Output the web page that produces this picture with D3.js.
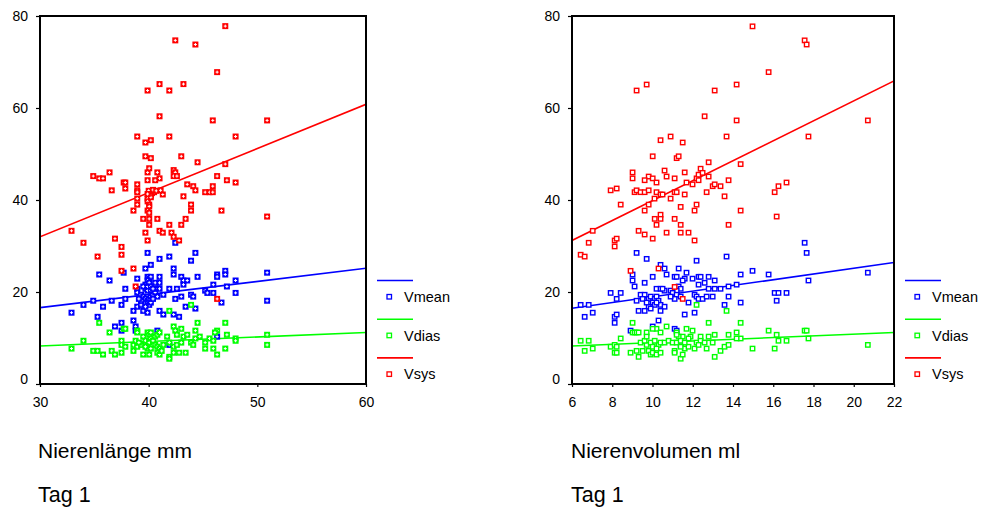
<!DOCTYPE html>
<html><head><meta charset="utf-8">
<script src="https://cdn.jsdelivr.net/npm/d3@7"></script>
<style>html,body{margin:0;padding:0;background:#fff}svg{display:block}text{font-family:"Liberation Sans",Arial,sans-serif;fill:#000}</style>
</head><body>
<script>
// ---------- data ----------
const seriesNames = ["Vmean", "Vdias", "Vsys"];
const seriesColors = ["#0000ff", "#00ff00", "#ff0000"];
const yTicks = [0, 20, 40, 60, 80];

const leftXTicks = [30, 40, 50, 60];
const leftXLabel = "Nierenlänge mm";
const leftFitStart = [16.6, 8.26, 32.0];   // fitted values at x = 30
const leftFitEnd = [25.15, 11.2, 60.8];    // fitted values at x = 60

const rightXTicks = [6, 8, 10, 12, 14, 16, 18, 20, 22];
const rightXLabel = "Nierenvolumen ml";
const rightFitStart = [16.45, 8.26, 31.2]; // at x = 6
const rightFitEnd = [26.4, 11.2, 65.9];    // at x = 22

const dayLabel = "Tag 1";

const leftVsys = [[47.05,77.8],[42.45,74.7],[44.3,73.8],[46.3,67.8],[41.0,65.2],[43.2,65.2],[39.9,63.8],[41.9,63.8],[41.0,58.2],[45.9,57.3],[50.9,57.3],[38.95,53.8],[41.9,53.8],[48.0,53.8],[39.7,52.5],[40.2,53.0],[39.7,49.5],[40.2,49.1],[43.0,49.5],[44.5,48.2],[47.05,47.8],[36.4,46.0],[34.9,45.2],[35.45,44.7],[35.8,44.7],[39.9,46.0],[40.05,46.9],[40.8,46.0],[41.0,44.7],[40.6,44.3],[39.9,44.3],[42.3,46.5],[42.45,46.0],[42.3,45.2],[42.6,45.2],[46.3,45.2],[47.2,44.3],[48.0,43.8],[37.7,43.8],[37.85,43.8],[37.85,42.5],[36.6,42.1],[38.95,43.4],[38.95,42.1],[38.95,41.7],[43.55,43.4],[44.1,43.0],[44.3,42.1],[45.9,43.0],[45.2,41.7],[45.6,41.7],[45.9,41.7],[40.1,41.7],[40.3,41.5],[40.5,41.7],[40.2,41.0],[41.3,41.2],[43.2,40.8],[38.95,40.3],[38.95,39.0],[39.9,40.3],[39.9,39.7],[40.05,39.0],[40.05,38.6],[38.6,37.7],[39.9,37.7],[40.05,37.2],[43.9,39.0],[43.9,37.7],[46.7,37.7],[50.9,36.4],[39.5,35.9],[40.05,35.9],[40.8,35.9],[40.05,34.6],[41.9,34.6],[43.0,34.6],[43.4,35.9],[39.7,32.9],[41.0,33.3],[41.3,32.9],[42.1,32.9],[42.3,32.0],[42.8,31.2],[39.9,31.2],[32.9,33.3],[34.0,30.7],[36.9,31.6],[37.5,29.8],[37.5,28.1],[35.3,27.7],[38.6,25.1],[37.5,24.6],[38.8,21.2],[46.3,18.5],[40.0,42.0],[40.4,42.2],[40.7,42.0],[41.1,42.1],[40.2,40.6],[39.9,41.3]];

const leftVmean = [[39.9,28.5],[44.3,28.5],[41.0,27.2],[41.9,27.7],[40.2,25.9],[43.9,26.8],[39.7,25.1],[42.3,25.1],[42.3,23.8],[42.45,30.7],[35.45,23.8],[36.4,22.5],[37.7,24.2],[38.95,22.9],[39.9,23.3],[40.05,22.9],[40.2,23.3],[39.9,22.5],[39.7,21.6],[40.05,21.6],[40.6,22.0],[41.0,23.3],[41.0,22.0],[40.6,20.7],[41.0,20.7],[43.0,23.3],[43.2,22.5],[43.55,22.5],[43.2,21.6],[44.5,23.3],[46.3,23.8],[46.3,23.3],[47.05,24.6],[47.05,23.8],[48.0,22.5],[50.9,24.2],[45.95,21.6],[47.2,21.2],[41.9,20.7],[42.6,20.7],[37.85,20.7],[38.95,20.7],[39.7,20.7],[39.9,20.3],[40.2,20.3],[45.2,20.3],[45.4,19.8],[45.95,19.8],[48.0,19.8],[43.9,19.4],[44.1,19.0],[43.0,19.0],[42.45,18.5],[46.7,17.7],[50.9,18.1],[41.35,19.4],[37.85,18.5],[36.6,18.1],[37.5,17.2],[34.9,18.1],[35.8,16.8],[34.0,17.2],[32.9,15.5],[38.6,15.9],[39.5,15.9],[39.9,15.5],[38.95,16.8],[39.3,17.2],[41.0,15.9],[41.35,15.1],[42.3,15.1],[42.8,14.6],[43.4,16.8],[44.3,16.4],[35.3,14.6],[36.9,12.5],[37.5,13.3],[38.6,13.8],[37.5,11.6],[38.8,12.5],[38.8,11.6],[40.8,11.6],[46.3,10.3],[41.9,8.5],[38.95,19.9],[39.3,19.4],[39.5,19.0],[39.7,18.5],[39.9,18.1],[39.9,17.7],[40.05,17.2],[39.7,16.8],[40.05,18.5],[40.2,19.0],[40.4,19.4],[40.6,19.9],[40.8,19.0],[39.5,21.2],[39.9,21.2],[40.05,22.0],[40.2,21.2],[40.4,20.7],[39.3,18.1],[39.1,18.5],[40.2,17.7],[40.4,18.5]];

const leftVdias = [[41.9,15.9],[43.9,17.2],[35.45,13.3],[37.7,12.0],[37.85,12.0],[36.4,11.2],[38.95,11.6],[38.95,11.2],[42.3,12.5],[43.0,12.0],[42.45,11.6],[42.6,10.7],[43.2,10.3],[43.55,10.7],[44.5,13.3],[44.3,11.6],[47.05,13.3],[46.3,11.6],[46.1,11.2],[47.2,10.7],[48.0,9.9],[48.0,9.4],[50.9,10.7],[50.9,8.5],[34.0,9.4],[32.9,7.7],[34.9,7.2],[35.3,7.2],[35.8,6.4],[36.6,7.2],[36.9,6.4],[37.5,6.8],[37.5,9.4],[37.5,8.5],[37.85,8.1],[38.6,8.5],[38.6,7.2],[38.95,8.1],[39.3,8.5],[39.5,10.3],[39.9,11.2],[40.05,10.7],[40.2,11.2],[39.7,9.4],[39.9,8.5],[40.05,9.0],[40.2,9.9],[40.4,9.4],[40.6,10.3],[40.8,10.7],[41.0,11.2],[40.6,8.5],[40.8,8.1],[41.0,7.7],[39.5,6.4],[40.05,6.4],[40.8,6.8],[41.0,6.4],[41.2,7.2],[41.35,8.5],[41.7,10.3],[41.9,9.0],[41.9,5.9],[41.9,5.5],[42.3,8.1],[42.3,6.8],[42.6,8.5],[42.8,6.8],[43.0,9.0],[43.4,6.8],[43.9,9.0],[44.1,8.5],[44.3,9.9],[45.2,9.0],[45.2,7.7],[45.6,9.9],[45.95,9.4],[45.95,7.7],[46.3,6.4],[47.05,7.7],[44.7,10.3],[38.8,9.4],[39.1,9.0],[39.9,7.7],[40.2,7.7],[39.7,8.1]];

const rightVsys = [[14.97,77.75],[17.56,74.7],[17.66,73.8],[15.77,67.8],[9.21,63.8],[9.71,65.1],[13.09,63.8],[14.18,65.1],[12.59,58.2],[14.18,57.3],[20.70,57.3],[10.90,53.8],[10.40,53.0],[11.50,52.5],[13.68,53.8],[17.75,53.8],[10.01,49.5],[11.2,49.1],[11.3,49.5],[12.79,48.2],[14.38,47.8],[9.01,46.0],[9.01,44.7],[9.81,45.1],[10.01,44.7],[9.61,44.3],[10.20,43.8],[10.60,46.4],[10.70,45.1],[11.10,44.7],[11.60,46.0],[11.69,43.8],[11.99,43.4],[12.19,44.7],[12.29,45.5],[12.39,46.8],[12.49,45.9],[12.29,44.3],[12.79,45.1],[12.69,41.7],[12.99,43.0],[13.09,43.4],[13.38,43.0],[13.78,44.3],[13.58,40.8],[16.07,41.7],[16.26,43.0],[16.66,43.8],[7.92,42.1],[8.22,42.5],[9.11,41.7],[9.21,42.1],[9.41,41.7],[9.61,41.7],[9.81,42.1],[10.2,41.7],[10.4,41.2],[10.5,41.2],[11.1,41.7],[11.2,41.7],[11.6,41.2],[10.90,40.3],[10.1,40.3],[8.42,39.0],[9.81,39.0],[9.61,37.7],[11.40,38.5],[12.19,39.0],[12.09,37.7],[14.38,37.7],[16.17,36.4],[10.11,35.9],[10.40,36.8],[10.40,35.9],[10.20,34.6],[11.10,35.9],[11.40,34.6],[13.78,34.6],[9.31,33.3],[9.61,32.5],[10.70,32.9],[11.40,32.9],[11.79,32.9],[10.01,31.6],[12.09,31.2],[7.03,33.3],[6.83,30.7],[8.12,31.2],[8.22,31.6],[8.12,29.9],[6.43,28.1],[6.63,27.7],[8.91,24.6],[10.30,25.1],[11.10,21.1],[11.50,18.5]];

const rightVmean = [[17.56,30.7],[17.66,28.5],[9.21,28.5],[9.71,27.2],[12.19,26.8],[13.68,27.7],[10.40,25.9],[10.60,25.1],[11.30,25.1],[11.69,24.2],[9.01,23.8],[9.01,22.5],[9.11,21.2],[10.01,23.3],[10.70,23.8],[11.10,23.3],[11.20,23.3],[11.60,22.9],[11.50,22.5],[11.99,22.9],[12.29,23.3],[12.39,23.3],[12.79,23.3],[13.09,22.5],[12.59,22.0],[12.29,21.6],[14.38,23.8],[14.97,24.6],[15.77,23.8],[17.75,22.5],[20.70,24.2],[9.61,22.0],[14.18,21.6],[13.78,21.2],[13.38,20.7],[13.09,20.7],[12.79,20.7],[10.20,20.7],[10.40,20.7],[10.60,20.3],[10.90,20.3],[10.50,20.7],[11.30,21.2],[11.40,20.7],[11.20,20.3],[7.92,19.8],[8.42,19.8],[8.22,18.5],[9.41,19.4],[9.61,19.4],[9.21,18.1],[9.51,18.5],[9.81,18.5],[9.91,19.0],[10.11,18.5],[10.20,19.0],[10.30,18.1],[10.01,17.7],[10.11,17.2],[10.40,17.2],[10.60,16.8],[9.81,16.8],[9.91,16.4],[9.31,15.9],[9.61,15.9],[10.40,15.9],[9.71,17.7],[10.20,17.7],[11.0,19.8],[11.2,19.4],[11.1,18.5],[10.9,19.0],[11.4,19.0],[11.79,17.7],[12.09,19.4],[12.19,19.0],[12.29,18.5],[12.49,18.5],[12.69,19.0],[12.99,19.0],[13.78,19.0],[13.58,17.2],[14.38,17.7],[16.07,19.8],[16.26,19.8],[16.66,19.8],[16.17,18.1],[6.43,17.2],[6.83,17.2],[6.63,14.6],[7.03,15.5],[8.12,14.6],[8.22,15.1],[8.12,13.3],[10.30,13.8],[11.60,15.1],[12.09,15.5],[8.91,11.6],[10.01,12.5],[11.10,12.0],[11.20,11.6],[11.40,8.5]];

const rightVdias = [[12.19,17.2],[13.68,15.9],[9.01,13.3],[12.79,13.3],[14.38,13.3],[9.01,11.2],[9.11,11.2],[9.21,11.2],[9.31,11.2],[9.71,11.2],[10.2,12.0],[10.4,11.2],[10.7,12.5],[11.2,11.2],[11.69,12.0],[11.99,11.6],[11.89,10.3],[11.5,10.3],[11.3,10.3],[11.79,9.9],[12.39,10.3],[12.79,10.3],[13.09,10.7],[13.78,10.7],[14.18,11.2],[14.38,9.9],[14.18,9.9],[15.77,11.6],[16.17,10.7],[17.56,11.6],[17.66,11.6],[17.75,9.9],[16.26,9.4],[16.66,9.4],[20.70,8.5],[6.43,9.4],[6.83,9.4],[6.63,7.2],[7.03,7.7],[7.92,8.1],[8.12,8.5],[8.22,8.1],[8.12,6.8],[8.22,6.8],[8.42,9.9],[8.91,6.8],[9.21,7.2],[9.31,5.9],[9.51,7.2],[9.71,8.5],[9.81,7.2],[9.91,6.4],[10.01,6.8],[10.2,6.4],[10.4,6.8],[10.3,8.5],[11.1,7.2],[11.1,6.8],[11.4,5.5],[11.5,6.4],[11.6,7.7],[11.79,8.1],[12.09,7.7],[12.69,7.7],[13.09,5.9],[13.38,7.2],[13.58,8.1],[13.78,8.5],[14.97,7.7],[16.07,7.7],[9.41,9.0],[9.61,9.4],[9.91,9.0],[10.11,9.4],[10.4,9.0],[10.6,9.0],[10.8,9.4],[11.0,9.0],[11.2,9.0],[11.4,9.4],[11.6,9.0],[12.19,9.0],[12.39,9.4],[12.59,9.0],[12.99,9.0],[10.01,8.1],[10.2,7.7],[11.4,8.1],[12.29,8.5],[11.2,10.7],[10.01,12.0],[9.71,10.3]];

// ---------- drawing ----------
const W = 981, H = 509;
const svg = d3.select("body").append("svg").attr("width", W).attr("height", H);

const panels = [
  {xDomain: [30, 60], xRange: [40, 366], xTicks: leftXTicks, xLabel: leftXLabel,
   series: [leftVmean, leftVdias, leftVsys], fitStart: leftFitStart, fitEnd: leftFitEnd, filled: true, labelX: 38},
  {xDomain: [6, 22], xRange: [572, 894], xTicks: rightXTicks, xLabel: rightXLabel,
   series: [rightVmean, rightVdias, rightVsys], fitStart: rightFitStart, fitEnd: rightFitEnd, filled: false, labelX: 571}
];

const yScale = d3.scaleLinear().domain([0, 80]).range([384, 16]);

panels.forEach((p, pi) => {
  const x = d3.scaleLinear().domain(p.xDomain).range(p.xRange);
  const g = svg.append("g");
  const clipId = "clip" + pi;
  svg.append("clipPath").attr("id", clipId).append("rect")
    .attr("x", p.xRange[0]).attr("y", 16).attr("width", p.xRange[1] - p.xRange[0]).attr("height", 368);

  // y axis
  const yAxis = d3.axisLeft(yScale).tickValues(yTicks).tickSize(4).tickPadding(8).tickFormat(d3.format("d"));
  const ya = g.append("g").attr("transform", `translate(${p.xRange[0]},0)`).call(yAxis);
  ya.select(".domain").remove();
  ya.selectAll("text").style("font-size", "14px").style("font-family", '"Liberation Sans", Arial, sans-serif');
  ya.selectAll(".tick").filter(d => d === 0).select("text").attr("y", -5);
  ya.selectAll("line").attr("stroke", "#000").attr("stroke-width", 1.2);

  // x axis
  const xAxis = d3.axisBottom(x).tickValues(p.xTicks).tickSize(3).tickPadding(10).tickFormat(d3.format("d"));
  const xa = g.append("g").attr("transform", `translate(0,384)`).call(xAxis);
  xa.select(".domain").remove();
  xa.selectAll("text").style("font-size", "14px").style("font-family", '"Liberation Sans", Arial, sans-serif');
  xa.selectAll("line").attr("stroke", "#000").attr("stroke-width", 1.2);

  // fit lines
  const lg = g.append("g").attr("clip-path", `url(#${clipId})`);
  seriesNames.forEach((s, i) => {
    lg.append("line")
      .attr("x1", x(p.xDomain[0])).attr("y1", yScale(p.fitStart[i]))
      .attr("x2", x(p.xDomain[1])).attr("y2", yScale(p.fitEnd[i]))
      .attr("stroke", seriesColors[i]).attr("stroke-width", 1.6);
  });

  // points: draw Vmean, Vdias, then Vsys
  [0, 1, 2].forEach(i => {
    const col = seriesColors[i];
    const pg = g.append("g");
    const pts = pg.selectAll("g").data(p.series[i]).join("g")
      .attr("transform", d => `translate(${x(d[0])},${yScale(d[1])})`);
    if (p.filled) {
      pts.append("rect").attr("x", -3).attr("y", -3).attr("width", 6).attr("height", 6).attr("fill", col);
      pts.append("path").attr("d", "M-1.5,0H1.5M0,-1.5V1.5").attr("stroke", "#fff").attr("stroke-width", 1);
    } else {
      pts.append("rect").attr("x", -2.2).attr("y", -2.2).attr("width", 4.4).attr("height", 4.4)
        .attr("fill", "#fff").attr("stroke", col).attr("stroke-width", 1.4);
    }
  });

  // frame
  g.append("rect").attr("x", p.xRange[0]).attr("y", 16)
    .attr("width", p.xRange[1] - p.xRange[0]).attr("height", 368)
    .attr("fill", "none").attr("stroke", "#000").attr("stroke-width", 2);

  // legend
  const lx = p.xRange[1] + 11;
  seriesNames.forEach((s, i) => {
    const ly = 280.5 + i * 38.7;
    g.append("line").attr("x1", lx).attr("x2", lx + 36).attr("y1", ly).attr("y2", ly)
      .attr("stroke", seriesColors[i]).attr("stroke-width", 1.6);
    g.append("rect").attr("x", lx + 10).attr("y", ly + 14).attr("width", 4.5).attr("height", 4.5)
      .attr("fill", "#fff").attr("stroke", seriesColors[i]).attr("stroke-width", 1.3);
    g.append("text").attr("x", lx + 27).attr("y", ly + 21.5).style("font-size", "14.5px").text(s);
  });

  // labels
  g.append("text").attr("x", p.labelX).attr("y", 458).style("font-size", "21px").text(p.xLabel);
  g.append("text").attr("x", p.labelX).attr("y", 502).style("font-size", "21.5px").text(dayLabel);
});
</script>
</body></html>
